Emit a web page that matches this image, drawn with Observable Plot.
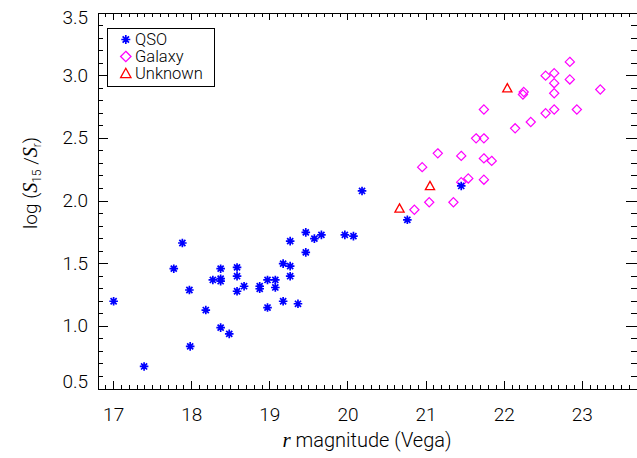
<!DOCTYPE html>
<html><head><meta charset="utf-8">
<script src="https://cdn.jsdelivr.net/npm/d3@7"></script>
<script src="https://cdn.jsdelivr.net/npm/@observablehq/plot@0.6"></script>
<style>
html,body{margin:0;padding:0;background:#fff;}
#chart{width:637px;height:458px;overflow:hidden;}
</style></head><body><div id="chart"></div>
<script>
// ---- data ----
const qsoR = [17.00,17.39,17.77,17.88,17.97,17.98,18.18,18.27,18.37,18.37,18.37,18.37,18.48,18.58,18.58,18.58,18.67,18.87,18.87,18.97,19.07,19.07,18.97,19.17,19.26,19.26,19.17,19.36,19.26,19.46,19.57,19.66,19.46,19.96,20.07,20.18,20.76,21.45];
const qsoS = [1.20,0.68,1.46,1.665,1.29,0.84,1.13,1.37,1.38,1.36,1.46,0.99,0.94,1.47,1.40,1.28,1.32,1.32,1.30,1.37,1.37,1.31,1.15,1.50,1.48,1.40,1.20,1.18,1.68,1.75,1.70,1.73,1.59,1.73,1.72,2.08,1.85,2.12];
const galR = [20.85,21.04,21.35,20.95,21.15,21.45,21.45,21.54,21.74,21.74,21.84,21.64,21.74,21.74,22.14,22.34,22.53,22.64,22.93,22.24,22.25,22.64,22.64,22.53,22.64,22.84,23.23,22.84];
const galS = [1.93,1.99,1.99,2.27,2.38,2.36,2.15,2.18,2.17,2.34,2.32,2.50,2.50,2.73,2.58,2.63,2.70,2.73,2.73,2.85,2.87,2.86,2.94,3.00,3.02,2.97,2.89,3.11];
const unkR = [20.66,21.05,22.04];
const unkS = [1.94,2.12,2.90];
const seriesNames = ["QSO","Galaxy","Unknown"];
const xTicks = [17,18,19,20,21,22,23];
const yTicks = [0.5,1.0,1.5,2.0,2.5,3.0,3.5];
const xDomain = [16.8,23.7];
const yDomain = [0.5,3.5];

// ---- symbols ----
const rad = s => Math.sqrt(s/Math.PI);
const asterisk = {draw(c,s){const r=rad(s),d=r*Math.SQRT1_2;
  c.moveTo(-r,0);c.lineTo(r,0);c.moveTo(0,-r);c.lineTo(0,r);
  c.moveTo(-d,-d);c.lineTo(d,d);c.moveTo(-d,d);c.lineTo(d,-d);}};
const diamond = {draw(c,s){const r=rad(s);
  c.moveTo(0,-r);c.lineTo(r,0);c.lineTo(0,r);c.lineTo(-r,0);c.closePath();}};
const triangle = {draw(c,s){const r=rad(s);
  c.moveTo(0,-r);c.lineTo(r,0.8*r);c.lineTo(-r,0.8*r);c.closePath();}};
const colors = ["#0000ff","#ff00ff","#ff0000"];
const syms = [asterisk, diamond, triangle];

const qso = qsoR.map((r,i)=>({r, s:qsoS[i]}));
const gal = galR.map((r,i)=>({r, s:galS[i]}));
const unk = unkR.map((r,i)=>({r, s:unkS[i]}));

const W = 637, H = 458, mL = 97.5, mR = 0.5, mT = 12.5, mB = 69.5;
const fw = W-mL-mR, fh = H-mT-mB;
const FONT = "Roboto, 'Liberation Sans', sans-serif";

// inward ticks (IDL style), lengths in pixels converted to data units
const xMinor = d3.range(169,237).map(v=>v/10);
const yMinor = d3.range(6,35).map(v=>v/10);
const isMajX = v => Math.abs(v-Math.round(v))<1e-6;
const isMajY = v => Math.abs(v*2-Math.round(v*2))<1e-6;
const perPxY = (yDomain[1]-yDomain[0])/fh, perPxX = (xDomain[1]-xDomain[0])/fw;
const xTickLen = v => (isMajX(v)?7.5:4)*perPxY;
const yTickLen = v => (isMajY(v)?10.8:5.4)*perPxX;
const tk = {stroke:"#000", strokeWidth:1, shapeRendering:"crispEdges"};

const plot = Plot.plot({
  width: W, height: H, marginLeft: mL, marginRight: mR, marginTop: mT, marginBottom: mB,
  x: {domain: xDomain, label: null},
  y: {domain: yDomain, label: null},
  style: {fontFamily: FONT, fontWeight: 300, fontSize: "19px", color: "#000", background: "#fff"},
  marks: [
    Plot.ruleX(xMinor, {x: d=>d, y1: ()=>yDomain[0], y2: d=>yDomain[0]+xTickLen(d), ...tk}),
    Plot.ruleX(xMinor, {x: d=>d, y1: ()=>yDomain[1], y2: d=>yDomain[1]-xTickLen(d), ...tk}),
    Plot.ruleY(yMinor, {y: d=>d, x1: ()=>xDomain[0], x2: d=>xDomain[0]+yTickLen(d), ...tk}),
    Plot.ruleY(yMinor, {y: d=>d, x1: ()=>xDomain[1], x2: d=>xDomain[1]-yTickLen(d), ...tk}),
    Plot.frame({stroke: "#000", strokeWidth: 1, shapeRendering:"crispEdges"}),
    Plot.axisX({ticks: xTicks, tickSize: 0, tickPadding: 18, tickFormat: d=>String(d), fill:"#000"}),
    Plot.axisY({ticks: yTicks.slice(1,-1), tickSize: 0, tickPadding: 10, tickFormat: d3.format(".1f"), fill:"#000"}),
    Plot.axisY({ticks: [yTicks[yTicks.length-1]], tickSize: 0, tickPadding: 10, tickFormat: d3.format(".1f"), dy: 5, fill:"#000"}),
    Plot.axisY({ticks: [yTicks[0]], tickSize: 0, tickPadding: 10, tickFormat: d3.format(".1f"), dy: -7, fill:"#000"}),
    Plot.dot(gal, {x:"r", y:"s", symbol: diamond, r: 4.6, fill: "none", stroke: colors[1], strokeWidth: 1.2}),
    Plot.dot(unk, {x:"r", y:"s", symbol: triangle, r: 4.6, fill: "none", stroke: colors[2], strokeWidth: 1.3}),
    Plot.dot(qso, {x:"r", y:"s", symbol: asterisk, r: 4.3, fill: "none", stroke: colors[0], strokeWidth: 1.7})
  ]
});
document.getElementById("chart").appendChild(plot);

const svg = d3.select(plot);
// x title
const xt = svg.append("text").attr("x", mL+fw/2).attr("y", 447).attr("text-anchor","middle")
  .style("font-family",FONT).style("font-weight",300).style("font-size","20px").attr("fill","#000");
xt.append("tspan").text("r").style("font-family","'Liberation Serif', serif").style("font-style","italic").style("font-size","21px");
xt.append("tspan").text(" magnitude (Vega)");
// y title
const yt = svg.append("text").attr("transform", `translate(37,183) rotate(-90)`).attr("text-anchor","middle")
  .style("font-family",FONT).style("font-weight",300).style("font-size","19px").attr("fill","#000");
yt.append("tspan").text("log (");
yt.append("tspan").text("S").style("font-family","'Liberation Serif', serif").style("font-style","italic").style("font-size","20px");
yt.append("tspan").text("15").attr("dy", 4).style("font-size","12px");
yt.append("tspan").text(" /").attr("dy", -4);
yt.append("tspan").text("S").style("font-family","'Liberation Serif', serif").style("font-style","italic").style("font-size","20px");
yt.append("tspan").text("r").attr("dy", 4).style("font-size","12px");
yt.append("tspan").text(")").attr("dy", -4);

// legend
const lg = svg.append("g");
lg.append("rect").attr("x",107.5).attr("y",28.5).attr("width",107).attr("height",57.5)
  .attr("fill","#fff").attr("stroke","#000").attr("stroke-width",1).attr("shape-rendering","crispEdges");
seriesNames.forEach((name,i)=>{
  const cy = 39.5 + i*17;
  const p = d3.path(); syms[i].draw(p, Math.PI*(i===0?4.5:5.2)**2);
  lg.append("path").attr("d", p.toString()).attr("transform",`translate(125.8,${cy})`)
    .attr("fill","none").attr("stroke",colors[i]).attr("stroke-width", i===0?1.7:1.3);
  lg.append("text").attr("x",135).attr("y",cy+5.5).attr("text-anchor","start").text(name)
    .style("font-family",FONT).style("font-weight",300).style("font-size","16.5px").attr("fill","#000");
});
</script></body></html>
